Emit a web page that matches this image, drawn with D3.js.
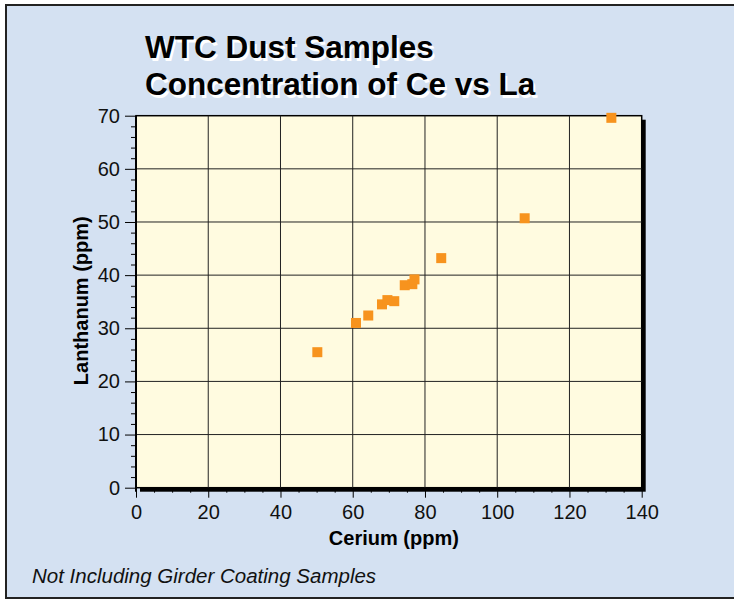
<!DOCTYPE html>
<html>
<meta charset="utf-8">
<style>
body { margin: 0; background: #fff; }
svg text { font-family: Arial, "Liberation Sans", sans-serif; }
</style>
<body>
<script src="https://d3js.org/d3.v7.min.js"></script>
<script>
// Ce vs La concentrations (ppm)
var cerium    = [50.2, 60.9, 64.3, 68.1, 69.6, 71.5, 74.4, 76.5, 77.1, 84.5, 107.6, 131.6];
var lanthanum = [25.5, 31.0, 32.4, 34.5, 35.3, 35.1, 38.1, 38.3, 39.2, 43.2, 50.7, 69.6];

var xTicks = [0, 20, 40, 60, 80, 100, 120, 140];
var yTicks = [0, 10, 20, 30, 40, 50, 60, 70];
var titleLines = ["WTC Dust Samples", "Concentration of Ce vs La"];

var width = 734, height = 600;

var svg = d3.select("body").append("svg")
    .attr("width", width)
    .attr("height", height);

// outer panel
svg.append("rect")
    .attr("x", 6).attr("y", 5)
    .attr("width", 740).attr("height", 593)
    .style("fill", "#d4e1f2")
    .style("stroke", "#222")
    .style("stroke-width", 2);

var x = d3.scaleLinear().domain([0, 140]).range([136, 641.7]);
var y = d3.scaleLinear().domain([0, 70]).range([487.7, 115.7]);

var pw = x(140) - x(0), ph = y(0) - y(70);

// shadow + plot box
svg.append("rect")
    .attr("x", x(0) + 4).attr("y", y(70) + 4)
    .attr("width", pw).attr("height", ph)
    .style("fill", "#000");
svg.append("rect")
    .attr("x", x(0)).attr("y", y(70))
    .attr("width", pw).attr("height", ph)
    .style("fill", "#fffbe0")
    .style("stroke", "#000")
    .style("stroke-width", 1.5);

// grid
svg.selectAll(".vgrid")
  .data(xTicks.slice(1, -1))
  .enter().append("line")
    .attr("class", "vgrid")
    .attr("x1", function(d) { return x(d); })
    .attr("x2", function(d) { return x(d); })
    .attr("y1", y(70)).attr("y2", y(0))
    .style("stroke", "#222").style("stroke-width", 1);
svg.selectAll(".hgrid")
  .data(yTicks.slice(1, -1))
  .enter().append("line")
    .attr("class", "hgrid")
    .attr("y1", function(d) { return y(d); })
    .attr("y2", function(d) { return y(d); })
    .attr("x1", x(0)).attr("x2", x(140))
    .style("stroke", "#222").style("stroke-width", 1);

// points
var pts = cerium.map(function(c, i) { return {ce: c, la: lanthanum[i]}; });
svg.selectAll(".pt")
  .data(pts)
  .enter().append("rect")
    .attr("class", "pt")
    .attr("x", function(d) { return x(d.ce) - 5; })
    .attr("y", function(d) { return y(d.la) - 5; })
    .attr("width", 10).attr("height", 10)
    .style("fill", "#f7931e");

// axes
var minorX = d3.range(0, 141, 5).filter(function(v) { return v % 20 != 0; });
var minorY = d3.range(0, 71, 2).filter(function(v) { return v % 10 != 0; });

var gx = svg.append("g").attr("transform", "translate(0," + y(0) + ")");
gx.call(d3.axisBottom(x).tickValues(minorX).tickSize(5).tickFormat("").tickSizeOuter(0));
gx.append("g").call(d3.axisBottom(x).tickValues(xTicks).tickSize(10).tickPadding(7).tickSizeOuter(0));

var gy = svg.append("g").attr("transform", "translate(" + x(0) + ",0)");
gy.call(d3.axisLeft(y).tickValues(minorY).tickSize(5).tickFormat("").tickSizeOuter(0));
gy.append("g").call(d3.axisLeft(y).tickValues(yTicks).tickSize(11).tickPadding(5).tickSizeOuter(0));

svg.selectAll(".domain").remove();
svg.selectAll(".tick line").style("stroke", "#000");
svg.selectAll(".tick text")
    .style("font-size", "20px")
    .style("fill", "#111")
    .style("font-family", "Arial, 'Liberation Sans', sans-serif");

// left edge of plot runs a little below zero
svg.append("line")
    .attr("x1", x(0)).attr("x2", x(0))
    .attr("y1", y(70)).attr("y2", y(0) + 4)
    .style("stroke", "#000").style("stroke-width", 2);

// axis titles
svg.append("text")
    .attr("x", (x(0) + x(140)) / 2 + 5)
    .attr("y", 545)
    .attr("text-anchor", "middle")
    .style("font-size", "20px")
    .style("font-weight", "bold")
    .text("Cerium (ppm)");

svg.append("text")
    .attr("transform", "translate(88," + ((y(0) + y(70)) / 2 - 1) + ") rotate(-90)")
    .attr("text-anchor", "middle")
    .style("font-size", "20px")
    .style("font-weight", "bold")
    .text("Lanthanum (ppm)");

// title with white drop shadow
svg.selectAll(".title")
  .data(titleLines)
  .enter().append("text")
    .attr("class", "title")
    .attr("x", 145)
    .attr("y", function(d, i) { return 58 + i * 37; })
    .style("font-size", "31.5px").style("font-weight", "bold")
    .style("fill", "#000")
    .style("text-shadow", "2px 3px 0 #fff")
    .text(function(d) { return d; });

// footnote
svg.append("text")
    .attr("x", 32).attr("y", 583)
    .style("font-size", "20.5px")
    .style("font-style", "italic")
    .style("fill", "#111")
    .text("Not Including Girder Coating Samples");
</script>
</body>
</html>
